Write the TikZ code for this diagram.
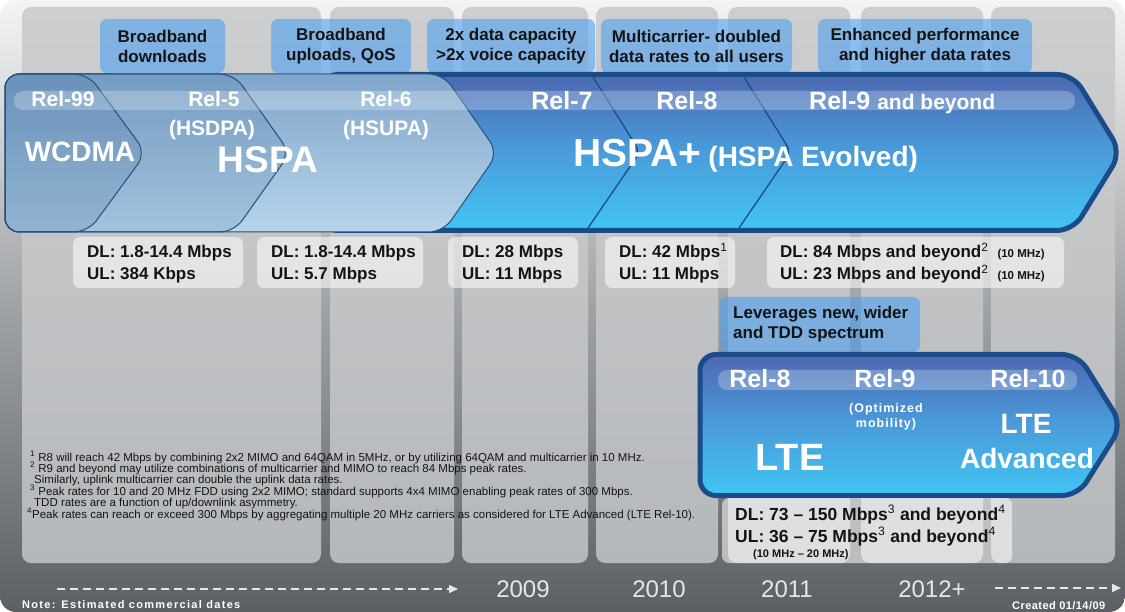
\documentclass[tikz,border=0pt]{standalone}
\usepackage{fontspec}
\setmainfont{Liberation Sans}
\usetikzlibrary{arrows.meta}
\definecolor{bgtop}{HTML}{F4F4F4}
\definecolor{bgmid}{HTML}{A0A3A6}
\definecolor{bgbot}{HTML}{5C6065}
\definecolor{paneltop}{HTML}{CDCECF}
\definecolor{panelbot}{HTML}{B5B8BB}
\definecolor{callblue}{HTML}{4EA0F0}
\definecolor{navy}{HTML}{1B4C8A}
\definecolor{thinnavy}{HTML}{234F7E}
\definecolor{plustop}{HTML}{4C68B2}
\definecolor{plusmid}{HTML}{4A9CDA}
\definecolor{plusbot}{HTML}{41C6F2}
\definecolor{hstop}{HTML}{80A6CB}
\definecolor{hsbot}{HTML}{B8D4EA}
\definecolor{hsover}{HTML}{2D5D8D}
\definecolor{yearcol}{HTML}{E6E7E8}
\definecolor{txt}{HTML}{141414}
\newcommand{\setfs}[2]{\fontsize{#1}{#2}\selectfont}
\newcommand{\mysup}[1]{\textsuperscript{\mdseries #1}}
\begin{document}
\begin{tikzpicture}[x=1pt,y=-1pt,
  panel/.style={top color=paneltop, bottom color=panelbot, rounded corners=9pt},
  callout/.style={fill=callblue, fill opacity=0.6, text opacity=1, rounded corners=7pt, inner sep=0pt, align=center, text=txt, font=\bfseries\setfs{17}{20}},
  dlbox/.style={fill=white, fill opacity=0.55, rounded corners=7pt, inner sep=0pt},
  dltext/.style={anchor=base west, inner sep=0pt, text=txt, font=\bfseries\setfs{17}{20}},
  rel/.style={anchor=base, inner sep=0pt, text=white, font=\bfseries\setfs{21}{21}},
  relbig/.style={anchor=base, inner sep=0pt, text=white, font=\bfseries\setfs{25}{25}},
  whitetext/.style={inner sep=0pt, text=white, font=\bfseries},
  chev/.style={draw=thinnavy, line width=1pt, rounded corners=14pt},
  bigarrow/.style={draw=navy, line width=5pt, rounded corners=16pt, top color=plustop, bottom color=plusbot, middle color=plusmid},
  band/.style={fill=white, fill opacity=0.25, rounded corners=9pt},
  foot/.style={anchor=base west, inner sep=0pt, text=txt, font=\setfs{11.5}{12}},
  year/.style={anchor=base, inner sep=0pt, text=yearcol, font=\setfs{24}{24}},
  timeline/.style={draw=yearcol, line width=1.5pt, dash pattern=on 8pt off 5pt, -{Triangle[length=9pt,width=8pt]}},
  note/.style={anchor=base west, inner sep=0pt, text=white, font=\bfseries\setfs{11}{11}\addfontfeature{LetterSpace=12}}
]
\useasboundingbox (0,0) rectangle (1125,612);
% background
\fill[white] (0,0) rectangle (1125,612);
\shade[top color=bgtop, bottom color=bgbot, middle color=bgmid, rounded corners=16pt] (0,0) rectangle (1125,612);
% columns
\foreach \a/\b in {22/321, 330/454, 462/588, 596/718, 728/850, 861/983, 991/1115}
  \shade[panel] (\a,7) rectangle (\b,563);

% top callouts
\node[callout, minimum width=125pt, minimum height=54pt] (cb1) at (162.5,46) {Broadband\\downloads};
\node[callout, minimum width=140pt, minimum height=54pt] (cb2) at (341,46) {Broadband\\uploads, QoS};
\node[callout, minimum width=168pt, minimum height=54pt] (cb3) at (511,46) {2x data capacity\\>2x voice capacity};
\node[callout, minimum width=191pt, minimum height=54pt] (cb4) at (696.5,46) {Multicarrier- doubled\\data rates to all users};
\node[callout, minimum width=214pt, minimum height=54pt] (cb5) at (925,46) {Enhanced performance\\and higher data rates};

% HSPA+ arrow
\path[bigarrow] (322,74.5) -- (1073,74.5) -- (1121,152.5) -- (1073,230.5) -- (322,230.5) -- cycle;
\draw[navy, line width=1.3pt, rounded corners=8pt] (593,77) -- (640,152) -- (588,228);
\draw[navy, line width=1.3pt, rounded corners=8pt] (744,77) -- (791,152) -- (739,228);
% HSPA chevrons
\path[chev, top color=hstop, bottom color=hsbot] (5,74) -- (443,74) -- (498,153) -- (443,232) -- (5,232) -- cycle;
\path[chev, fill=hsover, fill opacity=0.14] (5,74) -- (234,74) -- (290,153) -- (234,232) -- (5,232) -- cycle;
\path[chev, fill=hsover, fill opacity=0.14] (5,74) -- (88,74) -- (146,153) -- (88,232) -- (5,232) -- cycle;
\fill[band] (14,91) rectangle (1075,110);

% HSPA labels
\node[rel] (r99) at (63,107) {Rel-99};
\node[whitetext, anchor=base, font=\bfseries\setfs{28}{28}] (wcdma) at (80,162) {WCDMA};
\node[rel] (r5) at (214,107) {Rel-5};
\node[rel] (hsdpa) at (212,136) {(HSDPA)};
\node[whitetext, anchor=base, font=\bfseries\setfs{37}{37}] (hspa) at (268,173) {HSPA};
\node[rel] (r6) at (386,107) {Rel-6};
\node[rel] (hsupa) at (386,136) {(HSUPA)};
\node[relbig] (r7) at (562,110) {Rel-7};
\node[relbig] (r8) at (687,110) {Rel-8};
\node[whitetext, anchor=base west] (r9) at (809,110) {\setfs{25}{25}Rel-9 \setfs{21}{21}and beyond};
\node[whitetext, anchor=base west] (hspap) at (573,167) {\setfs{39}{39}HSPA+\hspace{7pt}\setfs{28}{28}(HSPA Evolved)};

% data rate boxes
\node[dlbox, minimum width=170pt, minimum height=51pt] (b1) at (158,262.5) {};
\node[dlbox, minimum width=166pt, minimum height=51pt] (b2) at (340,262.5) {};
\node[dlbox, minimum width=130pt, minimum height=51pt] (b3) at (513,262.5) {};
\node[dlbox, minimum width=130pt, minimum height=51pt] (b4) at (670,262.5) {};
\node[dlbox, minimum width=297pt, minimum height=51pt] (b5) at (915.5,262.5) {};
\node[dltext] (d1) at (87,258) {DL: 1.8-14.4 Mbps};
\node[dltext] (u1) at (87,280) {UL: 384 Kbps};
\node[dltext] (d2) at (271,258) {DL: 1.8-14.4 Mbps};
\node[dltext] (u2) at (271,280) {UL: 5.7 Mbps};
\node[dltext] (d3) at (462,258) {DL: 28 Mbps};
\node[dltext] (u3) at (462,280) {UL: 11 Mbps};
\node[dltext] (d4) at (619,258) {DL: 42 Mbps\mysup{1}};
\node[dltext] (u4) at (619,280) {UL: 11 Mbps};
\node[dltext] (d5) at (780,258) {DL: 84 Mbps and beyond\mysup{2}\hspace{9pt}{\setfs{11.5}{10}(10 MHz)}};
\node[dltext] (u5) at (780,280) {UL: 23 Mbps and beyond\mysup{2}\hspace{9pt}{\setfs{11.5}{10}(10 MHz)}};

% LTE callout
\node[callout, minimum width=200pt, minimum height=55pt] (cbl) at (820,324.5) {};
\node[inner sep=0pt, anchor=base west, text=txt, font=\bfseries\setfs{17}{20}] (lev1) at (733,319) {Leverages new, wider};
\node[inner sep=0pt, anchor=base west, text=txt, font=\bfseries\setfs{17}{20}] (lev2) at (733,339) {and TDD spectrum};

% LTE arrow
\path[bigarrow] (700,354.5) -- (1078,354.5) -- (1122,425) -- (1078,495.5) -- (700,495.5) -- cycle;
\fill[band] (718,370) rectangle (1077,390);
\node[relbig] (l8) at (760,388) {Rel-8};
\node[relbig] (l9) at (885,388) {Rel-9};
\node[relbig] (l10) at (1028,388) {Rel-10};
\node[whitetext, anchor=base, font=\bfseries\setfs{12.5}{12.5}\addfontfeature{LetterSpace=8}] (opt1) at (886,412) {(Optimized};
\node[whitetext, anchor=base, font=\bfseries\setfs{12.5}{12.5}\addfontfeature{LetterSpace=8}] (opt2) at (886,428) {mobility)};
\node[whitetext, anchor=base, font=\bfseries\setfs{38}{38}] (lte) at (790,470) {LTE};
\node[whitetext, anchor=base, font=\bfseries\setfs{28}{28}] (ltea1) at (1026,433) {LTE};
\node[whitetext, anchor=base, font=\bfseries\setfs{28}{28}] (ltea2) at (1027,468) {Advanced};

% LTE rates
\node[dlbox, minimum width=290pt, minimum height=65pt] (b6) at (867,530.5) {};
\node[dltext, font=\bfseries\setfs{17.5}{20}] (d6) at (735,520) {DL: 73 -- 150 Mbps\mysup{3} and beyond\mysup{4}};
\node[dltext, font=\bfseries\setfs{17.5}{20}] (u6) at (735,542) {UL: 36 -- 75 Mbps\mysup{3} and beyond\mysup{4}};
\node[dltext, font=\bfseries\setfs{11}{11}] (m6) at (753,557) {(10 MHz -- 20 MHz)};

% footnotes
\node[foot] (f1) at (30,461) {\mysup{1} R8 will reach 42 Mbps by combining 2x2 MIMO and 64QAM in 5MHz, or by utilizing 64QAM and multicarrier in 10 MHz.};
\node[foot] (f2) at (30,472) {\mysup{2} R9 and beyond may utilize combinations of multicarrier and MIMO to reach 84 Mbps peak rates.};
\node[foot] (f3) at (34,483) {Similarly, uplink multicarrier can double the uplink data rates.};
\node[foot] (f4) at (30,495) {\mysup{3} Peak rates for 10 and 20 MHz FDD using 2x2 MIMO; standard supports 4x4 MIMO enabling peak rates of 300 Mbps.};
\node[foot] (f5) at (34,506) {TDD rates are a function of up/downlink asymmetry.};
\node[foot] (f6) at (27,518) {\mysup{4}Peak rates can reach or exceed 300 Mbps by aggregating multiple 20 MHz carriers as considered for LTE Advanced (LTE Rel-10).};

% timeline
\coordinate (ta) at (57,589);
\coordinate (tb) at (458,589);
\coordinate (tc) at (995,588);
\coordinate (td) at (1121,588);
\draw[timeline] (ta) -- (tb);
\draw[timeline] (tc) -- (td);
\node[year] (y9) at (523,597) {2009};
\node[year] (y10) at (659,597) {2010};
\node[year] (y11) at (787,597) {2011};
\node[year] (y12) at (932,597) {2012+};
\node[note] (nt) at (22,608) {Note: Estimated commercial dates};
\node[note, font=\bfseries\setfs{11}{11}\addfontfeature{LetterSpace=4}] (cr) at (1012,609) {Created 01/14/09};
\end{tikzpicture}
\end{document}
